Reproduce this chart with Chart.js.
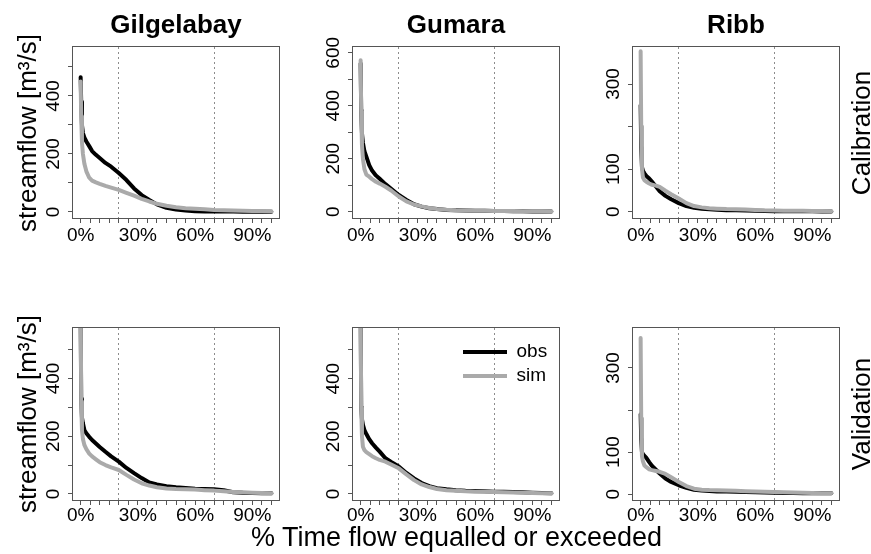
<!DOCTYPE html>
<html>
<head>
<meta charset="utf-8">
<script src="https://cdn.jsdelivr.net/npm/chart.js@4.4.0/dist/chart.umd.min.js"></script>
<style>
  html, body { margin: 0; padding: 0; background: #fff; }
  #fig { position: relative; width: 871px; height: 554px; overflow: hidden; background: #fff;
         font-family: "Liberation Sans", Arial, sans-serif; color: #000; }
  #fig canvas { position: absolute; }
  .lbl { position: absolute; white-space: nowrap; line-height: 1; transform: translate(-50%, -50%); }
  .rot { transform: translate(-50%, -50%) rotate(-90deg); }
</style>
</head>
<body>
<div id="fig"></div>
<script>
// ---------------- data ----------------
const exceedancePct = [0, 0.3, 0.7, 1.2, 2, 3, 4.5, 6, 8, 10, 13, 16, 20, 24, 28, 32, 36, 40, 45, 50, 55, 60, 65, 70, 75, 80, 85, 90, 95, 100];

const gilgelabayCalibObs = [465, 380, 300, 272, 256, 243, 227, 210, 197, 186, 169, 156, 134, 110, 81, 58, 41, 26, 14, 8, 5, 2, 1.5, 1, 1, 1, 0.8, 0.5, 0.4, 0.3];
const gilgelabayCalibSim = [450, 330, 240, 200, 165, 140, 118, 108, 102, 97, 90, 84, 76, 66, 56, 45, 36, 28, 21, 16, 13, 11, 9, 7, 6, 5, 4, 3.5, 3, 2];
const gumaraCalibObs     = [560, 380, 296, 260, 228, 208, 176, 155, 137, 124, 104, 86, 63, 44, 28, 19, 13, 10, 6, 5, 4, 3.5, 3, 2.5, 2, 1.5, 1.2, 1, 0.8, 0.5];
const gumaraCalibSim     = [572, 380, 250, 200, 160, 140, 132, 123, 113, 106, 94, 80, 57, 39, 27, 20, 14, 10, 7, 5, 4, 3.5, 3, 2.5, 2.2, 2, 1.8, 1.5, 1.2, 1];
const ribbCalibObs       = [250, 150, 105, 96, 90, 84, 78, 70, 59, 48, 37, 29, 20, 13, 9, 7, 5.5, 4.5, 3.5, 3, 2.5, 2, 1.5, 1, 0.9, 0.8, 0.7, 0.6, 0.5, 0.5];
const ribbCalibSim       = [377, 200, 100, 80, 74, 70, 66, 63, 61, 58, 49, 41, 31, 20, 13, 10, 8, 7, 6, 5.5, 5, 4, 3, 2.5, 2.2, 2, 1.8, 1.5, 1.2, 1];

const gilgelabayValidObs = [620, 330, 265, 245, 221, 210, 198, 187, 175, 163, 146, 130, 112, 90, 72, 55, 40, 33, 27, 23, 21, 18, 17, 16, 13, 6, 4, 3, 2.5, 2];
const gilgelabayValidSim = [700, 320, 221, 190, 169, 155, 140, 130, 120, 110, 100, 92, 83, 66, 50, 37, 29, 23, 19, 17, 16, 15, 13, 11.5, 9, 7, 5.5, 4, 3, 2];
const gumaraValidObs     = [650, 300, 260, 240, 222, 208, 190, 176, 161, 147, 124, 111, 95, 73, 54, 38, 27, 20, 16, 13, 11, 10, 9, 8, 7.5, 7, 6, 4.5, 3, 2];
const gumaraValidSim     = [650, 300, 200, 164, 152, 145, 138, 131, 124, 118, 112, 102, 89, 68, 48, 33, 24, 17, 13, 11, 9, 8, 7.5, 7, 6, 5, 4, 3, 2.5, 2];
const ribbValidObs       = [190, 130, 100, 95, 91, 86, 76, 67, 58, 49, 37, 29, 21, 15, 10.5, 8.5, 7.5, 6.5, 6, 5.5, 5, 4.5, 4, 3, 2.5, 2.5, 2, 2, 2, 2];
const ribbValidSim       = [371, 180, 90, 78, 68, 64, 59, 57, 55, 53, 48, 40, 29, 19, 13, 10.5, 9.5, 9, 8.5, 8, 7, 6.5, 5.5, 5, 4.5, 4, 3, 2.5, 2, 2];

const catchments = ['Gilgelabay', 'Gumara', 'Ribb'];
const periods = ['Calibration', 'Validation'];
const seriesNames = ['obs', 'sim'];
const xTickValues = [0, 5, 10, 15, 20, 25, 30, 35, 40, 45, 50, 55, 60, 65, 70, 75, 80, 85, 90, 95, 100];
const xTickLabels = [0, 30, 60, 90];          // labelled x ticks (%)
const xDottedLines = [20, 70];                 // dotted reference lines (%)
const yTicksCalib = [[0, 100, 200, 300, 400, 500], [0, 100, 200, 300, 400, 500, 600], [0, 100, 200, 300]];
const yTicksValid = [[0, 100, 200, 300, 400, 500], [0, 100, 200, 300, 400, 500], [0, 100, 200, 300]];
const yLabelsCalib = [[0, 200, 400], [0, 200, 400, 600], [0, 100, 300]];
const yLabelsValid = [[0, 200, 400], [0, 200, 400], [0, 100, 300]];
const yLimitsCalib = [[-21, 569], [-24, 622], [-15, 387]];
const yLimitsValid = [[-21, 575], [-21, 576], [-14, 395]];
const xLimits = [-4, 104];

const obsByPanel = [[gilgelabayCalibObs, gumaraCalibObs, ribbCalibObs], [gilgelabayValidObs, gumaraValidObs, ribbValidObs]];
const simByPanel = [[gilgelabayCalibSim, gumaraCalibSim, ribbCalibSim], [gilgelabayValidSim, gumaraValidSim, ribbValidSim]];
const yLimits = [yLimitsCalib, yLimitsValid];
const yTicks = [yTicksCalib, yTicksValid];
const yLabels = [yLabelsCalib, yLabelsValid];

// ---------------- layout ----------------
const FONT = '"Liberation Sans", Arial, sans-serif';
Chart.defaults.font.family = FONT;
Chart.defaults.color = '#000';
const COL_LEFT = [73, 353, 633];
const ROW_TOP = [47, 328];
const ROW_H = [171, 172];
const BOX_W = 206;
const PAD_L = 60, PAD_T = 16, PAD_R = 8, X_AXIS_H = 42;
const X_TICK_PAD = [1, -1];
const fig = document.getElementById('fig');

function addLabel(text, cx, cy, size, bold, rotated) {
  const d = document.createElement('div');
  d.className = 'lbl' + (rotated ? ' rot' : '');
  d.textContent = text;
  d.style.left = cx + 'px';
  d.style.top = cy + 'px';
  d.style.fontSize = size + 'px';
  d.style.fontWeight = bold ? 'bold' : 'normal';
  fig.appendChild(d);
}

const framePlugin = {
  id: 'frame',
  afterDatasetsDraw(chart) {
    const { ctx, chartArea: a } = chart;
    ctx.save();
    ctx.strokeStyle = '#555';
    ctx.lineWidth = 1;
    ctx.strokeRect(a.left - 0.5, a.top - 0.5, a.right - a.left + 1, a.bottom - a.top + 1);
    ctx.restore();
  }
};

function makePanel(r, c) {
  const boxL = COL_LEFT[c], boxT = ROW_TOP[r], boxH = ROW_H[r];
  const W = PAD_L + BOX_W + PAD_R, H = PAD_T + boxH + X_AXIS_H;
  const cv = document.createElement('canvas');
  cv.width = W; cv.height = H;
  cv.style.width = W + 'px'; cv.style.height = H + 'px';
  cv.style.left = (boxL - PAD_L) + 'px';
  cv.style.top = (boxT - PAD_T) + 'px';
  fig.appendChild(cv);

  const showLegend = (r === 1 && c === 1);
  const legendPos = { x: 463 - (boxL - PAD_L) - 5, y: 352 - 9.5 - 5 - (boxT - PAD_T) };
  const legendMover = {
    id: 'legendMover',
    afterLayout(chart) {
      const lg = chart.legend;
      if (!lg || !showLegend) return;
      const w = lg.width, h = lg.height;
      lg.left = legendPos.x; lg.top = legendPos.y;
      lg.right = lg.left + w; lg.bottom = lg.top + h;
    }
  };

  const toPts = (vals) => exceedancePct.map((x, i) => ({ x: x, y: vals[i] }));
  const yTickVals = yTicks[r][c];
  const labelled = yLabels[r][c];

  new Chart(cv, {
    type: 'line',
    data: {
      datasets: [
        { label: seriesNames[0], data: toPts(obsByPanel[r][c]), borderColor: '#000000', backgroundColor: '#000000',
          borderWidth: 4, order: 1, clip: 0 },
        { label: seriesNames[1], data: toPts(simByPanel[r][c]), borderColor: '#aaaaaa', backgroundColor: '#aaaaaa',
          borderWidth: 4, order: 0, clip: 0 }
      ]
    },
    options: {
      responsive: false, animation: false, devicePixelRatio: 1, events: [],
      layout: { padding: { left: 0, top: PAD_T, right: PAD_R, bottom: 0 } },
      elements: {
        point: { radius: 0, hoverRadius: 0 },
        line: { tension: 0, borderJoinStyle: 'round', borderCapStyle: 'round', fill: false }
      },
      plugins: {
        tooltip: { enabled: false },
        title: { display: false },
        legend: {
          display: showLegend,
          position: 'chartArea',
          align: 'start',
          labels: {
            usePointStyle: true,
            pointStyleWidth: 44,
            padding: 5,
            color: '#000',
            font: { size: 19 },
            sort: (a, b) => a.datasetIndex - b.datasetIndex,
            generateLabels: (chart) => chart.data.datasets.map((ds, i) => ({
              text: ds.label, fillStyle: ds.borderColor, strokeStyle: ds.borderColor,
              lineWidth: 4, lineCap: 'butt', pointStyle: 'line', hidden: false, datasetIndex: i, fontColor: '#000'
            }))
          }
        }
      },
      scales: {
        x: {
          type: 'linear', min: xLimits[0], max: xLimits[1],
          afterFit: (s) => { s.height = X_AXIS_H; },
          afterBuildTicks: (s) => { s.ticks = xTickValues.map((v) => ({ value: v })); },
          ticks: {
            autoSkip: false, minRotation: 0, maxRotation: 0,
            padding: X_TICK_PAD[r], color: '#000', font: { size: 19 },
            callback: (v) => xTickLabels.includes(v) ? v + '%' : ''
          },
          grid: {
            drawOnChartArea: true, drawTicks: true, tickLength: 5, tickColor: '#555', tickWidth: 1, lineWidth: 1,
            color: (ctx) => (ctx.tick && xDottedLines.includes(ctx.tick.value)) ? '#8c8c8c' : 'rgba(0,0,0,0)'
          },
          border: { display: false, dash: [2, 3] }
        },
        y: {
          type: 'linear', min: yLimits[r][c][0], max: yLimits[r][c][1],
          afterFit: (s) => { s.width = PAD_L; },
          afterBuildTicks: (s) => { s.ticks = yTickVals.map((v) => ({ value: v })); },
          ticks: {
            autoSkip: false, minRotation: 90, maxRotation: 90,
            crossAlign: 'center', padding: -2, color: '#000', font: { size: 19 },
            callback: (v) => labelled.includes(v) ? String(v) : ''
          },
          grid: { drawOnChartArea: false, drawTicks: true, tickLength: 5, tickColor: '#555', tickWidth: 1, color: '#555' },
          border: { display: false }
        }
      }
    },
    plugins: [framePlugin, legendMover]
  });
}

for (let r = 0; r < 2; r++) {
  for (let c = 0; c < 3; c++) makePanel(r, c);
}

// titles and axis labels
catchments.forEach((name, c) => addLabel(name, COL_LEFT[c] + BOX_W / 2, 24, 26, true, false));
for (let r = 0; r < 2; r++) {
  const cy = ROW_TOP[r] + ROW_H[r] / 2;
  addLabel('streamflow [m\u00B3/s]', 27, cy, 26, false, true);
  addLabel(periods[r], 861, cy, 26, false, true);
}
addLabel('% Time flow equalled or exceeded', 456.5, 537, 27, false, false);
</script>
</body>
</html>
